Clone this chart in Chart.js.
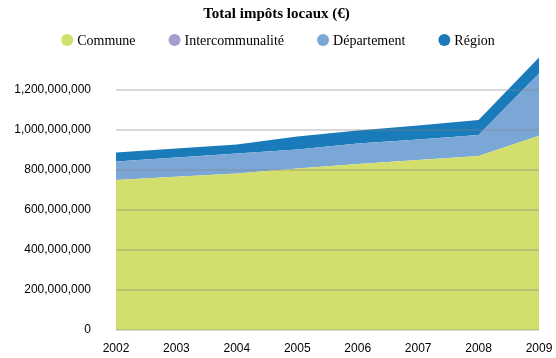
<!DOCTYPE html>
<html><head><meta charset="utf-8">
<script src="https://cdn.jsdelivr.net/npm/chart.js@4"></script>
<style>html,body{margin:0;padding:0;background:#fff}</style>
</head><body>
<canvas id="c" width="556" height="358"></canvas>
<script>
const years = ['2002','2003','2004','2005','2006','2007','2008','2009'];
const commune = [750e6, 766e6, 783e6, 808e6, 830e6, 850e6, 870e6, 971e6];
const intercommunalite = [0, 0, 0, 0, 0, 0, 0, 0];
const departement = [92e6, 96e6, 100e6, 95e6, 103e6, 103e6, 105e6, 312e6];
const region = [46e6, 46e6, 45e6, 64e6, 64e6, 69e6, 75e6, 80e6];
const yTickValues = [0, 200e6, 400e6, 600e6, 800e6, 1000e6, 1200e6];

const colors = ['#d3df6c', '#a99bcb', '#7ba7d6', '#1a7bba'];

function ds(label, data, color, fill) {
  return { label, data, backgroundColor: color, borderColor: color, borderWidth: 0,
           pointRadius: 0, pointHoverRadius: 0, tension: 0, fill };
}

const legendPlugin = {
  id: 'customLegend',
  afterDraw(chart) {
    const ctx = chart.ctx;
    ctx.save();
    ctx.font = '14px "Liberation Serif"';
    const items = chart.data.datasets.map(d => ({ label: d.label, color: d.backgroundColor, w: ctx.measureText(d.label).width }));
    const r = 6, textOff = 16, gap = 33;
    const total = items.reduce((s, it) => s + textOff + it.w, 0) + gap * (items.length - 1);
    let x = (chart.width - total) / 2;
    const cy = 40;
    ctx.textBaseline = 'alphabetic';
    items.forEach(it => {
      ctx.fillStyle = it.color;
      ctx.beginPath(); ctx.arc(x + r, cy, r, 0, Math.PI * 2); ctx.fill();
      ctx.fillStyle = '#000';
      ctx.fillText(it.label, x + textOff, cy + 5);
      x += textOff + it.w + gap;
    });
    ctx.restore();
  }
};

new Chart(document.getElementById('c'), {
  type: 'line',
  data: {
    labels: years,
    datasets: [
      ds('Commune', commune, colors[0], 'origin'),
      ds('Intercommunalité', intercommunalite, colors[1], '-1'),
      ds('Département', departement, colors[2], '-1'),
      ds('Région', region, colors[3], '-1')
    ]
  },
  options: {
    responsive: false,
    animation: false,
    layout: { padding: { left: 14, right: 17, top: 0, bottom: 0 } },
    plugins: {
      legend: { display: false },
      tooltip: { enabled: false },
      title: {
        display: true,
        text: 'Total impôts locaux (€)',
        color: '#000',
        font: { family: '"Liberation Serif"', size: 15, weight: 'bold' },
        padding: { top: 5, bottom: 27 }
      }
    },
    scales: {
      x: {
        offset: false,
        grid: { display: false, drawTicks: false },
        border: { display: false },
        ticks: { color: '#000', font: { family: '"Liberation Sans"', size: 12 }, padding: 11, maxRotation: 0, autoSkip: false },
        afterFit: (scale) => { scale.height = 28; scale.paddingLeft = 0; scale.paddingRight = 0; }
      },
      y: {
        stacked: true,
        min: 0,
        max: 1400e6,
        afterBuildTicks: (scale) => { scale.ticks = yTickValues.map(v => ({ value: v })); },
        afterFit: (scale) => { scale.width = 102; scale.paddingTop = 0; scale.paddingBottom = 0; },
        grid: { color: 'rgba(128,128,128,0.3)', lineWidth: 2, drawTicks: false, z: 1 },
        border: { display: false },
        ticks: {
          color: '#000',
          font: { family: '"Liberation Sans"', size: 12 },
          padding: 25,
          callback: (v) => Number(v).toLocaleString('en-US')
        }
      }
    }
  },
  plugins: [legendPlugin]
});
</script>
</body></html>
